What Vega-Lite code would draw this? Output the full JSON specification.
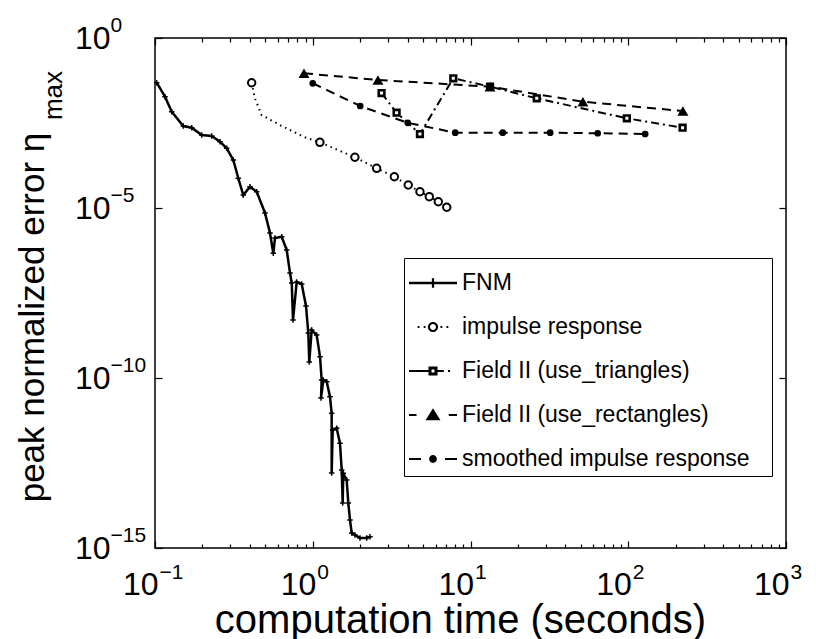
{
  "$schema": "https://vega.github.io/schema/vega-lite/v6.json",
  "autosize": "none",
  "width": 631,
  "height": 510,
  "padding": {"left": 155, "top": 38, "right": 30, "bottom": 91},
  "background": "white",
  "config": {
    "font": "Liberation Sans",
    "view": {"stroke": "black", "strokeWidth": 1.5},
    "axis": {"domain": false, "grid": false, "tickColor": "black", "tickWidth": 1.2, "labelColor": "black", "titleColor": "black", "labelFlush": false, "labelOverlap": false, "titleFontWeight": "normal", "labelFont": "Liberation Sans", "titleFont": "Liberation Sans"}
  },
  "datasets": {
    "fnm": [
      {"i": 1, "t": 0.1025, "err": 4.84e-2}, {"i": 2, "t": 0.1157, "err": 1.88e-2}, {"i": 3, "t": 0.1276, "err": 6.8e-3},
      {"i": 4, "t": 0.1511, "err": 2.58e-3}, {"i": 5, "t": 0.1709, "err": 2.30e-3}, {"i": 6, "t": 0.1977, "err": 1.40e-3},
      {"i": 7, "t": 0.2287, "err": 1.31e-3}, {"i": 8, "t": 0.2583, "err": 8.9e-4}, {"i": 9, "t": 0.2848, "err": 5.7e-4},
      {"i": 10, "t": 0.3136, "err": 2.58e-4}, {"i": 11, "t": 0.3373, "err": 7.5e-5}, {"i": 12, "t": 0.3628, "err": 2.41e-5},
      {"i": 13, "t": 0.4001, "err": 4.23e-5}, {"i": 14, "t": 0.4413, "err": 3.01e-5}, {"i": 15, "t": 0.4981, "err": 7.13e-6},
      {"i": 16, "t": 0.5358, "err": 1.84e-6}, {"i": 17, "t": 0.5622, "err": 4.66e-7}, {"i": 18, "t": 0.5764, "err": 1.31e-6},
      {"i": 19, "t": 0.6357, "err": 1.43e-6}, {"i": 20, "t": 0.6838, "err": 5.82e-7}, {"i": 21, "t": 0.7176, "err": 1.23e-7},
      {"i": 22, "t": 0.7357, "err": 6.22e-8}, {"i": 23, "t": 0.7497, "err": 5.08e-9}, {"i": 24, "t": 0.7911, "err": 6.67e-8},
      {"i": 25, "t": 0.8511, "err": 5.82e-8}, {"i": 26, "t": 0.9062, "err": 1.31e-8}, {"i": 27, "t": 0.9371, "err": 2.11e-9},
      {"i": 28, "t": 0.9508, "err": 2.96e-10}, {"i": 29, "t": 0.9847, "err": 2.58e-9}, {"i": 30, "t": 1.059, "err": 1.84e-9},
      {"i": 31, "t": 1.112, "err": 4.23e-10}, {"i": 32, "t": 1.139, "err": 8.73e-11}, {"i": 33, "t": 1.128, "err": 2.58e-11},
      {"i": 34, "t": 1.167, "err": 8.73e-11}, {"i": 35, "t": 1.226, "err": 7.78e-11}, {"i": 36, "t": 1.286, "err": 2.82e-11},
      {"i": 37, "t": 1.318, "err": 9.17e-12}, {"i": 38, "t": 1.318, "err": 1.61e-13}, {"i": 39, "t": 1.338, "err": 2.96e-12},
      {"i": 40, "t": 1.418, "err": 3.32e-12}, {"i": 41, "t": 1.488, "err": 1.20e-12}, {"i": 42, "t": 1.526, "err": 1.97e-13},
      {"i": 43, "t": 1.548, "err": 2.11e-14}, {"i": 44, "t": 1.562, "err": 1.57e-13}, {"i": 45, "t": 1.641, "err": 1.0e-13},
      {"i": 46, "t": 1.680, "err": 2.11e-14}, {"i": 47, "t": 1.722, "err": 6.67e-15}, {"i": 48, "t": 1.766, "err": 2.76e-15},
      {"i": 49, "t": 1.853, "err": 2.41e-15}, {"i": 50, "t": 1.993, "err": 1.97e-15}, {"i": 51, "t": 2.198, "err": 1.97e-15},
      {"i": 52, "t": 2.306, "err": 2.15e-15}
    ],
    "impulse": [
      {"t": 0.410, "err": 4.84e-2, "mk": 1}, {"t": 0.430, "err": 1.68e-2, "mk": 0}, {"t": 0.474, "err": 5.4e-3, "mk": 0},
      {"t": 0.619, "err": 2.76e-3, "mk": 0}, {"t": 0.871, "err": 1.25e-3, "mk": 0}, {"t": 1.11, "err": 8.55e-4, "mk": 1},
      {"t": 1.85, "err": 3.1e-4, "mk": 1}, {"t": 2.54, "err": 1.47e-4, "mk": 1}, {"t": 3.29, "err": 8.3e-5, "mk": 1},
      {"t": 4.03, "err": 4.75e-5, "mk": 1}, {"t": 4.78, "err": 3.0e-5, "mk": 1}, {"t": 5.48, "err": 2.15e-5, "mk": 1},
      {"t": 6.25, "err": 1.53e-5, "mk": 1}, {"t": 7.07, "err": 1.05e-5, "mk": 1}
    ],
    "tri": [
      {"t": 2.73, "err": 0.0241}, {"t": 3.40, "err": 6.35e-3}, {"t": 4.78, "err": 1.5e-3}, {"t": 7.78, "err": 0.0653},
      {"t": 13.3, "err": 0.037}, {"t": 26.3, "err": 0.0168}, {"t": 98, "err": 4.35e-3}, {"t": 221, "err": 2.3e-3}
    ],
    "rect": [
      {"t": 0.88, "err": 0.0916}, {"t": 2.59, "err": 0.0582}, {"t": 13.3, "err": 0.037}, {"t": 51.6, "err": 0.0134}, {"t": 222, "err": 7.1e-3}
    ],
    "smooth": [
      {"t": 1.0, "err": 0.0466}, {"t": 2.0, "err": 0.01}, {"t": 4.0, "err": 3.2e-3}, {"t": 8.0, "err": 1.64e-3},
      {"t": 16, "err": 1.64e-3}, {"t": 32, "err": 1.64e-3}, {"t": 64, "err": 1.58e-3}, {"t": 128, "err": 1.5e-3}
    ],
    "legendItems": [
      {"s": "FNM"}, {"s": "impulse response"}, {"s": "Field II (use_triangles)"}, {"s": "Field II (use_rectangles)"}, {"s": "smoothed impulse response"}
    ]
  },
  "resolve": {"axis": {"x": "independent", "y": "independent"}},
  "layer": [
    {
      "data": {"name": "fnm"},
      "mark": {"type": "line", "color": "black", "strokeWidth": 2.5},
      "encoding": {
        "x": {"field": "t", "type": "quantitative", "scale": {"type": "log", "domain": [0.1, 1000], "nice": false},
          "axis": {"orient": "bottom", "values": [0.1, 1, 10, 100, 1000], "labelExpr": "'10'", "labelAlign": "right", "labelOffset": 3,
            "tickSize": -7, "labelPadding": 28, "labelFontSize": 32, "title": "computation time (seconds)", "titleFontSize": 40, "titleX": 305, "titleAlign": "center", "titleY": 84, "titleBaseline": "alphabetic"}},
        "y": {"field": "err", "type": "quantitative", "scale": {"type": "log", "domain": [1e-15, 1], "nice": false},
          "axis": {"orient": "left", "values": [1, 1e-5, 1e-10, 1e-15], "labelExpr": "'10'",
            "tickSize": -7, "labelPadding": 52, "labelAlign": "right", "labelBaseline": "middle", "labelFontSize": 32,
            "title": "peak normalized error η", "titleFontSize": 35, "titleX": -112, "titleY": 279, "titleAngle": -90, "titleBaseline": "alphabetic", "titleAlign": "center"}},
        "order": {"field": "i", "type": "quantitative"}
      }
    },
    {
      "data": {"name": "fnm"},
      "mark": {"type": "point", "shape": "M-1,0H1M0,-1V1", "size": 30, "filled": false, "stroke": "black", "strokeWidth": 1.5, "opacity": 1},
      "encoding": {
        "x": {"field": "t", "type": "quantitative", "scale": {"type": "log", "domain": [0.1, 1000], "nice": false},
          "axis": {"orient": "top", "values": [0.1, 1, 10, 100, 1000], "labels": false, "tickSize": -7, "title": null}},
        "y": {"field": "err", "type": "quantitative", "scale": {"type": "log", "domain": [1e-15, 1], "nice": false},
          "axis": {"orient": "right", "values": [1, 1e-5, 1e-10, 1e-15], "labels": false, "tickSize": -7, "title": null}}
      }
    },
    {
      "data": {"name": "impulse"},
      "mark": {"type": "line", "color": "black", "strokeWidth": 2, "strokeDash": [1.5, 4]},
      "encoding": {
        "x": {"field": "t", "type": "quantitative", "scale": {"type": "log", "domain": [0.1, 1000], "nice": false},
          "axis": {"orient": "bottom", "values": [0.2,0.3,0.4,0.5,0.6,0.7,0.8,0.9,2,3,4,5,6,7,8,9,20,30,40,50,60,70,80,90,200,300,400,500,600,700,800,900], "labels": false, "tickSize": -4, "title": null}},
        "y": {"field": "err", "type": "quantitative", "scale": {"type": "log", "domain": [1e-15, 1], "nice": false},
          "axis": {"orient": "left", "labels": false, "ticks": false, "title": "max", "titleFontSize": 26, "titleX": -94, "titleY": 57, "titleAngle": -90, "titleBaseline": "alphabetic", "titleAlign": "center"}}
      }
    },
    {
      "data": {"name": "impulse"},
      "transform": [{"filter": "datum.mk == 1"}],
      "mark": {"type": "point", "shape": "circle", "size": 55, "filled": true, "fill": "white", "stroke": "black", "strokeWidth": 2, "opacity": 1},
      "encoding": {
        "x": {"field": "t", "type": "quantitative", "scale": {"type": "log", "domain": [0.1, 1000], "nice": false},
          "axis": {"orient": "top", "values": [0.2,0.3,0.4,0.5,0.6,0.7,0.8,0.9,2,3,4,5,6,7,8,9,20,30,40,50,60,70,80,90,200,300,400,500,600,700,800,900], "labels": false, "tickSize": -4, "title": null}},
        "y": {"field": "err", "type": "quantitative", "scale": {"type": "log", "domain": [1e-15, 1], "nice": false},
          "axis": {"orient": "left", "values": [1, 1e-5, 1e-10, 1e-15], "labelExpr": "['0','−5','−10','−15'][round(-log(datum.value)/LN10/5)]",
            "ticks": false, "tickSize": 0, "labelPadding": 45, "labelAlign": "left", "labelBaseline": "middle", "labelOffset": -13, "labelFontSize": 21, "title": null}}
      }
    },
    {
      "data": {"name": "tri"},
      "mark": {"type": "line", "color": "black", "strokeWidth": 2, "strokeDash": [8, 4, 2, 4]},
      "encoding": {
        "x": {"field": "t", "type": "quantitative", "scale": {"type": "log", "domain": [0.1, 1000], "nice": false},
          "axis": {"orient": "bottom", "values": [0.1, 1, 10, 100, 1000], "labelExpr": "['−1','0','1','2','3'][round(log(datum.value)/LN10)+1]",
            "ticks": false, "tickSize": 0, "labelPadding": 13, "labelAlign": "left", "labelBaseline": "top", "labelOffset": 4, "labelFontSize": 21, "title": null}},
        "y": {"field": "err", "type": "quantitative", "scale": {"type": "log", "domain": [1e-15, 1], "nice": false}, "axis": null}
      }
    },
    {
      "data": {"name": "tri"},
      "mark": {"type": "point", "shape": "square", "size": 32, "filled": true, "fill": "white", "stroke": "black", "strokeWidth": 2.6, "opacity": 1},
      "encoding": {
        "x": {"field": "t", "type": "quantitative", "scale": {"type": "log", "domain": [0.1, 1000], "nice": false}, "axis": null},
        "y": {"field": "err", "type": "quantitative", "scale": {"type": "log", "domain": [1e-15, 1], "nice": false}, "axis": null}
      }
    },
    {
      "data": {"name": "rect"},
      "mark": {"type": "line", "color": "black", "strokeWidth": 2, "strokeDash": [9, 6]},
      "encoding": {
        "x": {"field": "t", "type": "quantitative", "scale": {"type": "log", "domain": [0.1, 1000], "nice": false}, "axis": null},
        "y": {"field": "err", "type": "quantitative", "scale": {"type": "log", "domain": [1e-15, 1], "nice": false}, "axis": null}
      }
    },
    {
      "data": {"name": "rect"},
      "mark": {"type": "point", "shape": "triangle-up", "size": 120, "filled": true, "color": "black", "opacity": 1},
      "encoding": {
        "x": {"field": "t", "type": "quantitative", "scale": {"type": "log", "domain": [0.1, 1000], "nice": false}, "axis": null},
        "y": {"field": "err", "type": "quantitative", "scale": {"type": "log", "domain": [1e-15, 1], "nice": false}, "axis": null}
      }
    },
    {
      "data": {"name": "smooth"},
      "mark": {"type": "line", "color": "black", "strokeWidth": 2, "strokeDash": [9, 6]},
      "encoding": {
        "x": {"field": "t", "type": "quantitative", "scale": {"type": "log", "domain": [0.1, 1000], "nice": false}, "axis": null},
        "y": {"field": "err", "type": "quantitative", "scale": {"type": "log", "domain": [1e-15, 1], "nice": false}, "axis": null}
      }
    },
    {
      "data": {"name": "smooth"},
      "mark": {"type": "point", "shape": "circle", "size": 45, "filled": true, "color": "black", "opacity": 1},
      "encoding": {
        "x": {"field": "t", "type": "quantitative", "scale": {"type": "log", "domain": [0.1, 1000], "nice": false}, "axis": null},
        "y": {"field": "err", "type": "quantitative", "scale": {"type": "log", "domain": [1e-15, 1], "nice": false}, "axis": null}
      }
    },
    {
      "data": {"name": "legendItems"},
      "mark": {"type": "point", "filled": true, "color": "black", "opacity": 0},
      "encoding": {
        "shape": {"field": "s", "type": "nominal",
          "scale": {"domain": ["FNM", "impulse response", "Field II (use_triangles)", "Field II (use_rectangles)", "smoothed impulse response"],
            "range": [
              "M-1.2,-0.0625H1.2V0.0625H-1.2ZM-0.056,-0.24H0.056V0.24H-0.056Z",
              "M-0.765,-0.0525H-0.675V0.0525H-0.765ZM-0.465,-0.0525H-0.375V0.0525H-0.465ZM0.375,-0.0525H0.465V0.0525H0.375ZM0.675,-0.0525H0.765V0.0525H0.675ZM0.255,0A0.255,0.255,0,1,1,-0.255,0A0.255,0.255,0,1,1,0.255,0ZM0.15,0A0.15,0.15,0,1,0,-0.15,0A0.15,0.15,0,1,0,0.15,0Z",
              "M-1.2,-0.0525H-0.225V0.0525H-1.2ZM0.225,-0.0525H0.54V0.0525H0.225ZM0.75,-0.0525H0.855V0.0525H0.75ZM-0.225,-0.225H0.225V0.225H-0.225ZM-0.075,-0.075V0.075H0.075V-0.075Z",
              "M-1.2,-0.0525H-0.825V0.0525H-1.2ZM0.79,-0.0525H1.2V0.0525H0.79ZM0,-0.3375L0.375,0.2625L-0.375,0.2625Z",
              "M-1.2,-0.0525H-0.6V0.0525H-1.2ZM0.6,-0.0525H1.2V0.0525H0.6ZM0.195,0A0.195,0.195,0,1,1,-0.195,0A0.195,0.195,0,1,1,0.195,0Z"
            ]},
          "legend": {"orient": "none", "legendX": 249, "legendY": 220, "title": " ", "titleOrient": "right", "titlePadding": 17, "titleFontSize": 10,
            "labelFontSize": 23, "labelFont": "Liberation Sans", "labelColor": "black",
            "symbolSize": 1600, "symbolOffset": 4, "symbolFillColor": "black", "symbolStrokeWidth": 0, "rowPadding": 12, "padding": 5, "labelOffset": 9, "labelLimit": 500,
            "strokeColor": "black", "fillColor": "white", "symbolOpacity": 1}
        }
      }
    }
  ]
}
